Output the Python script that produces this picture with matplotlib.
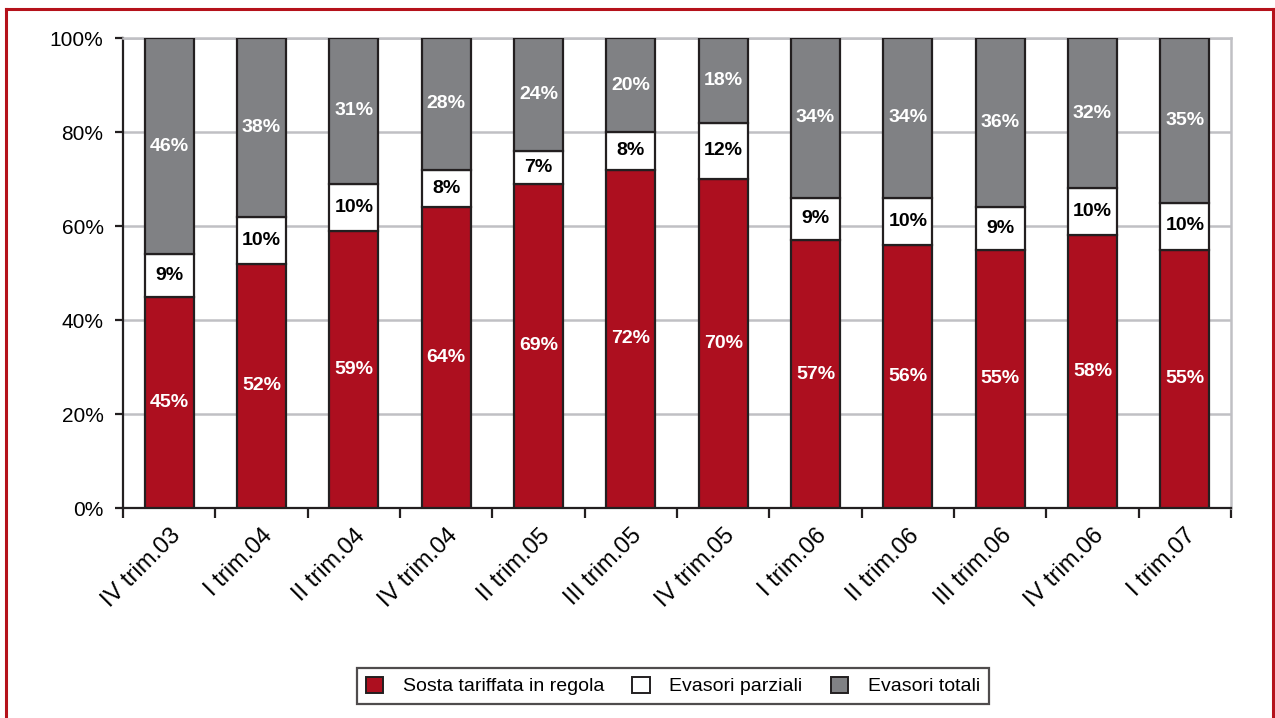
import matplotlib
matplotlib.use("Agg")
import matplotlib.pyplot as plt
from matplotlib.lines import Line2D
from matplotlib.patches import Patch
import numpy as np

plt.rcParams['font.family'] = ['Liberation Sans', 'DejaVu Sans']

categories = ["IV trim.03", "I trim.04", "II trim.04", "IV trim.04", "II trim.05",
              "III trim.05", "IV trim.05", "I trim.06", "II trim.06", "III trim.06",
              "IV trim.06", "I trim.07"]
regola = [45, 52, 59, 64, 69, 72, 70, 57, 56, 55, 58, 55]
parziali = [9, 10, 10, 8, 7, 8, 12, 9, 10, 9, 10, 10]
totali = [46, 38, 31, 28, 24, 20, 18, 34, 34, 36, 32, 35]
series_names = ["Sosta tariffata in regola", "Evasori parziali", "Evasori totali"]
yticks = [0, 20, 40, 60, 80, 100]

RED = "#ad0f1f"
GRAY = "#808184"
EDGE = "#231f20"
GRID = "#c0c0c4"
BORDER = "#b5121b"

W, H = 1275, 718
fig = plt.figure(figsize=(W / 100, H / 100), dpi=100)
ax = fig.add_axes([123 / W, 1 - 508 / H, (1231 - 123) / W, (508 - 38) / H])

x = np.arange(len(categories))
bw = 0.53
lw = 1.6
r = np.array(regola, float)
p = np.array(parziali, float)
t = np.array(totali, float)

ax.bar(x, r, bw, color=RED, edgecolor=EDGE, linewidth=lw, zorder=3)
ax.bar(x, p, bw, bottom=r, color="white", edgecolor=EDGE, linewidth=lw, zorder=3)
ax.bar(x, t, bw, bottom=r + p, color=GRAY, edgecolor=EDGE, linewidth=lw, zorder=3)

fs_lab = 14
for i in range(len(x)):
    ax.text(x[i], r[i] / 2, f"{regola[i]}%", ha="center", va="center",
            color="white", fontsize=fs_lab, fontweight="bold", zorder=4)
    ax.text(x[i], r[i] + p[i] / 2, f"{parziali[i]}%", ha="center", va="center",
            color="black", fontsize=fs_lab, fontweight="bold", zorder=4)
    ax.text(x[i], r[i] + p[i] + t[i] / 2, f"{totali[i]}%", ha="center", va="center",
            color="white", fontsize=fs_lab, fontweight="bold", zorder=4)

ax.set_xlim(-0.5, len(x) - 0.5)
ax.set_ylim(0, 100)
ax.set_yticks(yticks)
ax.set_yticklabels([f"{v}%" for v in yticks], fontsize=15)
ax.yaxis.grid(True, color=GRID, linewidth=1.8, zorder=0)
ax.set_axisbelow(True)

ax.set_xticks(x)
ax.set_xticklabels(categories, rotation=45, ha="right", va="top",
                   rotation_mode="anchor", fontsize=17)
ax.set_xticks(np.arange(-0.5, len(x), 1.0), minor=True)
ax.tick_params(axis="x", which="major", length=0, pad=12)
ax.tick_params(axis="x", which="minor", length=7, width=1.6, color=EDGE, direction="out")
ax.tick_params(axis="y", length=6, width=1.6, color=EDGE, direction="out", pad=8)

for s in ["top", "right"]:
    ax.spines[s].set_color(GRID)
    ax.spines[s].set_linewidth(1.8)
for s in ["left", "bottom"]:
    ax.spines[s].set_color(EDGE)
    ax.spines[s].set_linewidth(1.6)

handles = [Patch(facecolor=RED, edgecolor=EDGE, linewidth=1.4),
           Patch(facecolor="white", edgecolor=EDGE, linewidth=1.4),
           Patch(facecolor=GRAY, edgecolor=EDGE, linewidth=1.4)]
leg = fig.legend(handles, series_names, loc="center", ncol=3,
                 bbox_to_anchor=(673 / W, 1 - 686 / H), fontsize=14,
                 frameon=True, fancybox=False, edgecolor=EDGE,
                 handlelength=0.9, handleheight=0.9, handletextpad=1.0,
                 columnspacing=1.45, borderpad=0.45)
leg.get_frame().set_linewidth(1.6)

# red frame around the figure (left, top, right)
fig.add_artist(Line2D([6 / W, 6 / W], [0, 1 - 9 / H], color=BORDER, linewidth=2.2,
                      transform=fig.transFigure))
fig.add_artist(Line2D([6 / W, 1273 / W], [1 - 9 / H, 1 - 9 / H], color=BORDER,
                      linewidth=2.2, transform=fig.transFigure))
fig.add_artist(Line2D([1273 / W, 1273 / W], [0, 1 - 9 / H], color=BORDER, linewidth=2.2,
                      transform=fig.transFigure))

fig.savefig("out.png", dpi=100)
